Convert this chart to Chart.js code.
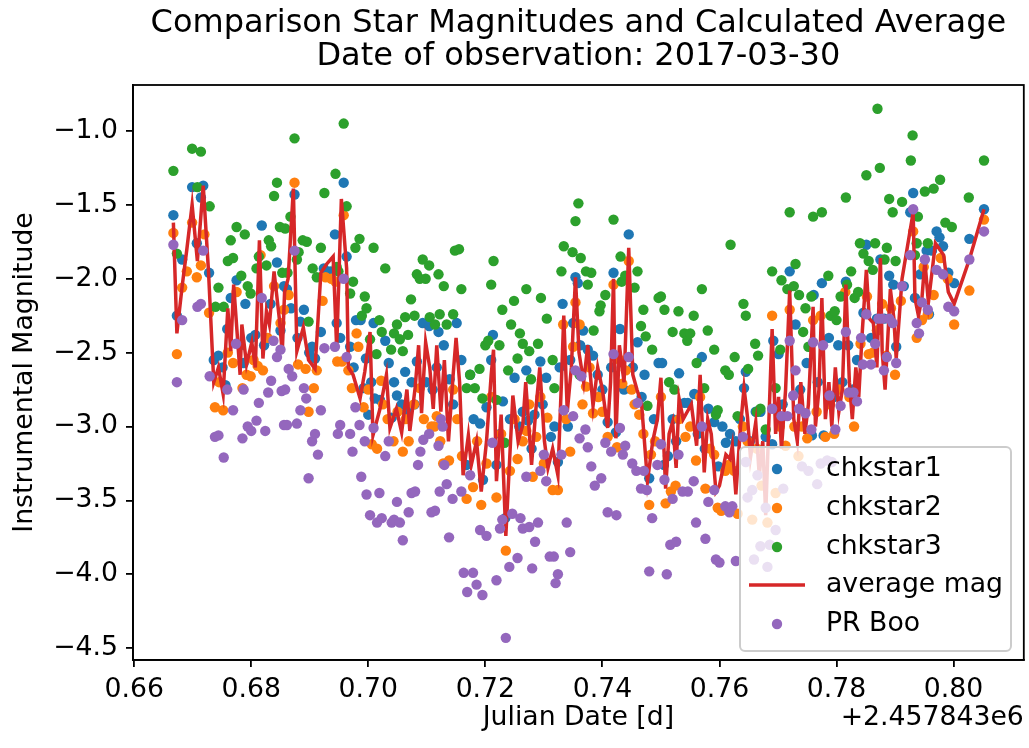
<!DOCTYPE html>
<html><head><meta charset="utf-8">
<script src="https://cdn.jsdelivr.net/npm/chart.js@4.4.0/dist/chart.umd.min.js"></script>
<style>html,body{margin:0;padding:0;background:#fff;}canvas{display:block;}</style>
</head><body>
<canvas id="c" width="1029" height="748"></canvas>
<script>
const titleLines = ['Comparison Star Magnitudes and Calculated Average', 'Date of observation: 2017-03-30'];
const xLabel = 'Julian Date [d]';
const yLabel = 'Instrumental Magnitude';
const xOffsetText = '+2.457843e6';
const xTicks = [0.66, 0.68, 0.70, 0.72, 0.74, 0.76, 0.78, 0.80];
const yTicks = [-1.0, -1.5, -2.0, -2.5, -3.0, -3.5, -4.0, -4.5];
const seriesNames = ['chkstar1', 'chkstar2', 'chkstar3', 'average mag', 'PR Boo'];

const chkstar1 = [[0.6667,-1.57],[0.6673,-2.25],[0.6682,-1.87],[0.6699,-1.38],[0.6707,-1.76],[0.6714,-1.45],[0.6718,-1.37],[0.6728,-1.96],[0.6736,-2.55],[0.6744,-2.52],[0.6751,-2.60],[0.6756,-2.72],[0.6759,-2.34],[0.6765,-2.13],[0.6775,-2.01],[0.6781,-2.45],[0.6787,-2.57],[0.6790,-2.17],[0.6800,-2.40],[0.6807,-2.38],[0.6818,-1.64],[0.6822,-2.45],[0.6833,-2.17],[0.6844,-1.89],[0.6850,-2.35],[0.6856,-2.05],[0.6861,-2.07],[0.6868,-2.20],[0.6874,-1.43],[0.6879,-2.40],[0.6884,-2.29],[0.6890,-2.21],[0.6899,-2.50],[0.6904,-2.46],[0.6909,-2.54],[0.6919,-2.36],[0.6924,-1.93],[0.6935,-1.95],[0.6943,-1.70],[0.6946,-2.30],[0.6952,-2.40],[0.6958,-1.35],[0.6963,-1.85],[0.6969,-2.46],[0.6975,-2.60],[0.6979,-2.28],[0.6987,-2.28],[0.6992,-2.74],[0.6996,-2.54],[0.7000,-2.92],[0.7005,-2.70],[0.7009,-2.30],[0.7011,-2.81],[0.7020,-2.82],[0.7029,-2.42],[0.7035,-2.57],[0.7040,-2.94],[0.7044,-2.70],[0.7049,-2.79],[0.7057,-2.85],[0.7063,-2.63],[0.7066,-2.90],[0.7074,-2.70],[0.7079,-2.85],[0.7083,-2.56],[0.7093,-2.30],[0.7099,-2.70],[0.7104,-2.32],[0.7110,-2.75],[0.7117,-2.60],[0.7120,-2.36],[0.7129,-2.45],[0.7139,-2.68],[0.7145,-2.85],[0.7151,-2.30],[0.7159,-2.55],[0.7168,-3.26],[0.7174,-2.65],[0.7180,-2.95],[0.7191,-2.98],[0.7196,-3.36],[0.7202,-2.87],[0.7210,-2.55],[0.7213,-2.38],[0.7219,-3.26],[0.7225,-3.05],[0.7230,-2.83],[0.7234,-3.62],[0.7242,-2.95],[0.7250,-2.67],[0.7258,-3.00],[0.7264,-2.90],[0.7270,-2.62],[0.7273,-2.96],[0.7279,-3.15],[0.7284,-2.92],[0.7294,-2.56],[0.7298,-2.85],[0.7304,-2.67],[0.7312,-3.07],[0.7318,-3.00],[0.7324,-3.24],[0.7327,-2.60],[0.7332,-2.17],[0.7341,-3.00],[0.7345,-2.55],[0.7350,-2.30],[0.7354,-1.99],[0.7358,-2.03],[0.7362,-2.45],[0.7367,-2.35],[0.7375,-2.48],[0.7384,-2.52],[0.7392,-2.65],[0.7400,-2.75],[0.7409,-2.97],[0.7415,-2.60],[0.7419,-1.96],[0.7423,-3.04],[0.7430,-2.34],[0.7437,-2.75],[0.7445,-1.70],[0.7452,-2.60],[0.7460,-2.43],[0.7467,-2.80],[0.7472,-2.65],[0.7480,-3.35],[0.7488,-2.95],[0.7496,-2.57],[0.7502,-2.57],[0.7505,-3.26],[0.7512,-3.20],[0.7520,-2.95],[0.7526,-3.10],[0.7531,-2.64],[0.7540,-2.84],[0.7546,-2.84],[0.7557,-2.78],[0.7563,-3.05],[0.7570,-2.53],[0.7575,-3.15],[0.7581,-2.88],[0.7591,-2.97],[0.7598,-3.27],[0.7605,-3.00],[0.7611,-3.11],[0.7618,-3.05],[0.7628,-3.10],[0.7635,-2.95],[0.7642,-2.74],[0.7645,-2.63],[0.7652,-3.10],[0.7662,-2.90],[0.7670,-2.90],[0.7679,-3.07],[0.7690,-3.12],[0.7692,-2.42],[0.7701,-2.51],[0.7708,-2.85],[0.7720,-1.95],[0.7730,-2.31],[0.7738,-2.75],[0.7749,-2.57],[0.7758,-3.06],[0.7761,-2.11],[0.7768,-2.70],[0.7775,-2.03],[0.7778,-3.06],[0.7787,-2.40],[0.7795,-2.80],[0.7803,-2.45],[0.7810,-2.70],[0.7816,-2.02],[0.7820,-2.45],[0.7828,-2.75],[0.7835,-2.55],[0.7846,-2.23],[0.7851,-1.77],[0.7859,-2.40],[0.7869,-2.27],[0.7875,-1.87],[0.7882,-2.27],[0.7890,-1.98],[0.7897,-2.04],[0.7902,-2.46],[0.7915,-2.05],[0.7926,-1.55],[0.7931,-1.42],[0.7934,-2.13],[0.7943,-1.97],[0.7954,-1.81],[0.7958,-2.24],[0.7963,-1.81],[0.7971,-1.68],[0.7976,-1.72],[0.7982,-1.78],[0.7991,-1.96],[0.8001,-2.03],[0.8027,-1.73],[0.8052,-1.53]];

const chkstar2 = [[0.6667,-1.69],[0.6673,-2.51],[0.6682,-2.06],[0.6690,-1.95],[0.6699,-1.62],[0.6707,-1.99],[0.6714,-1.91],[0.6720,-1.70],[0.6728,-2.23],[0.6738,-2.87],[0.6745,-2.70],[0.6752,-2.89],[0.6760,-2.50],[0.6769,-2.57],[0.6775,-2.09],[0.6785,-2.74],[0.6792,-2.65],[0.6799,-2.66],[0.6804,-2.55],[0.6811,-2.59],[0.6816,-1.84],[0.6820,-2.62],[0.6828,-2.40],[0.6839,-2.05],[0.6850,-2.30],[0.6856,-2.21],[0.6864,-2.11],[0.6874,-1.35],[0.6880,-2.58],[0.6893,-2.61],[0.6898,-2.90],[0.6907,-2.74],[0.6912,-2.62],[0.6922,-2.15],[0.6927,-1.99],[0.6937,-2.00],[0.6944,-2.02],[0.6947,-2.56],[0.6955,-2.56],[0.6958,-1.57],[0.6966,-2.62],[0.6972,-2.74],[0.6980,-2.37],[0.6983,-2.46],[0.6992,-2.87],[0.7000,-2.75],[0.7006,-3.12],[0.7015,-3.15],[0.7022,-2.69],[0.7025,-2.85],[0.7033,-2.95],[0.7043,-3.10],[0.7050,-2.90],[0.7059,-3.17],[0.7064,-2.95],[0.7069,-3.10],[0.7078,-2.85],[0.7088,-2.74],[0.7095,-2.95],[0.7108,-3.00],[0.7113,-3.00],[0.7117,-2.93],[0.7123,-3.10],[0.7128,-3.25],[0.7138,-3.23],[0.7145,-2.75],[0.7152,-2.95],[0.7160,-3.20],[0.7168,-3.49],[0.7179,-3.41],[0.7186,-3.10],[0.7193,-3.53],[0.7202,-3.25],[0.7210,-2.80],[0.7219,-3.48],[0.7227,-3.05],[0.7235,-3.84],[0.7242,-3.30],[0.7250,-2.95],[0.7255,-3.22],[0.7264,-3.10],[0.7270,-3.03],[0.7275,-2.85],[0.7281,-3.34],[0.7287,-3.07],[0.7294,-2.80],[0.7300,-3.25],[0.7306,-2.94],[0.7315,-3.43],[0.7324,-3.43],[0.7333,-2.31],[0.7338,-2.95],[0.7345,-3.17],[0.7350,-2.46],[0.7354,-2.16],[0.7361,-2.31],[0.7366,-2.85],[0.7372,-2.73],[0.7378,-2.60],[0.7384,-2.91],[0.7393,-2.80],[0.7400,-2.90],[0.7409,-3.07],[0.7419,-2.04],[0.7425,-3.14],[0.7430,-2.55],[0.7434,-2.71],[0.7440,-2.62],[0.7445,-1.88],[0.7450,-2.75],[0.7455,-2.85],[0.7463,-2.92],[0.7470,-3.05],[0.7480,-3.53],[0.7483,-3.19],[0.7490,-3.10],[0.7500,-2.80],[0.7508,-3.52],[0.7517,-3.44],[0.7525,-3.40],[0.7531,-2.95],[0.7542,-3.07],[0.7550,-3.00],[0.7560,-3.23],[0.7567,-2.80],[0.7576,-3.42],[0.7584,-3.15],[0.7591,-3.19],[0.7597,-3.55],[0.7603,-3.57],[0.7610,-3.30],[0.7616,-3.26],[0.7625,-3.30],[0.7631,-3.59],[0.7640,-3.00],[0.7648,-3.10],[0.7656,-3.63],[0.7664,-3.15],[0.7672,-3.40],[0.7682,-3.65],[0.7690,-2.25],[0.7696,-3.45],[0.7703,-3.00],[0.7713,-3.13],[0.7720,-2.21],[0.7728,-3.00],[0.7735,-3.20],[0.7741,-3.00],[0.7750,-3.08],[0.7760,-2.28],[0.7766,-2.90],[0.7773,-2.25],[0.7781,-3.07],[0.7789,-2.85],[0.7796,-3.05],[0.7805,-2.75],[0.7815,-2.09],[0.7822,-2.80],[0.7830,-3.00],[0.7841,-2.44],[0.7852,-2.12],[0.7855,-2.51],[0.7862,-2.50],[0.7869,-2.35],[0.7878,-2.17],[0.7885,-2.52],[0.7893,-2.20],[0.7900,-2.65],[0.7910,-2.15],[0.7931,-1.68],[0.7937,-2.40],[0.7946,-2.28],[0.7949,-1.92],[0.7956,-2.24],[0.7966,-2.11],[0.7978,-1.86],[0.7990,-2.00],[0.8001,-2.31],[0.8027,-2.08],[0.8052,-1.60]];

const chkstar3 = [[0.6667,-1.27],[0.6673,-1.83],[0.6699,-1.12],[0.6708,-1.38],[0.6714,-1.14],[0.6729,-1.51],[0.6739,-2.19],[0.6744,-2.06],[0.6753,-2.19],[0.6760,-1.88],[0.6765,-1.74],[0.6769,-1.86],[0.6775,-1.65],[0.6783,-1.98],[0.6789,-1.70],[0.6794,-2.05],[0.6799,-2.10],[0.6809,-1.93],[0.6813,-1.85],[0.6826,-1.91],[0.6830,-1.74],[0.6834,-1.78],[0.6839,-1.44],[0.6844,-1.35],[0.6849,-1.65],[0.6853,-1.96],[0.6858,-1.66],[0.6862,-1.96],[0.6867,-1.58],[0.6874,-1.05],[0.6878,-1.87],[0.6881,-1.82],[0.6888,-1.74],[0.6895,-1.75],[0.6898,-2.29],[0.6905,-1.93],[0.6912,-1.99],[0.6919,-1.79],[0.6925,-1.42],[0.6944,-1.29],[0.6946,-1.92],[0.6949,-1.95],[0.6958,-0.95],[0.6963,-1.51],[0.6969,-2.10],[0.6974,-2.02],[0.6978,-1.79],[0.6985,-1.73],[0.6989,-2.25],[0.6994,-2.12],[0.6997,-2.20],[0.7003,-2.41],[0.7009,-1.79],[0.7014,-2.51],[0.7019,-2.28],[0.7023,-2.36],[0.7029,-1.93],[0.7039,-2.48],[0.7044,-2.37],[0.7049,-2.31],[0.7054,-2.41],[0.7059,-2.49],[0.7063,-2.26],[0.7068,-2.38],[0.7073,-2.14],[0.7079,-2.25],[0.7083,-1.97],[0.7088,-2.00],[0.7093,-1.87],[0.7098,-2.00],[0.7104,-1.91],[0.7105,-2.26],[0.7114,-2.31],[0.7120,-1.97],[0.7122,-2.24],[0.7129,-2.05],[0.7134,-2.31],[0.7145,-2.24],[0.7148,-1.81],[0.7155,-1.80],[0.7159,-2.07],[0.7168,-2.74],[0.7174,-2.65],[0.7182,-2.74],[0.7190,-2.61],[0.7195,-2.81],[0.7200,-2.45],[0.7205,-2.42],[0.7210,-2.04],[0.7214,-1.88],[0.7219,-2.82],[0.7224,-2.45],[0.7229,-2.21],[0.7233,-3.11],[0.7239,-2.62],[0.7244,-2.31],[0.7249,-2.15],[0.7255,-2.54],[0.7259,-2.37],[0.7264,-2.44],[0.7270,-2.07],[0.7275,-2.49],[0.7278,-2.68],[0.7290,-2.44],[0.7295,-2.13],[0.7305,-2.27],[0.7315,-2.55],[0.7318,-2.74],[0.7330,-1.95],[0.7334,-1.78],[0.7349,-1.82],[0.7354,-1.61],[0.7359,-1.49],[0.7361,-2.65],[0.7363,-1.86],[0.7372,-1.95],[0.7375,-2.04],[0.7381,-1.96],[0.7385,-2.35],[0.7395,-2.22],[0.7397,-2.18],[0.7405,-2.11],[0.7419,-1.60],[0.7431,-1.85],[0.7433,-2.02],[0.7439,-1.98],[0.7455,-2.06],[0.7460,-1.95],[0.7466,-2.32],[0.7470,-2.21],[0.7474,-2.39],[0.7477,-2.86],[0.7485,-2.48],[0.7496,-2.13],[0.7500,-2.12],[0.7506,-2.21],[0.7514,-2.70],[0.7520,-2.36],[0.7523,-2.75],[0.7530,-2.22],[0.7540,-2.37],[0.7545,-2.42],[0.7550,-2.37],[0.7556,-2.25],[0.7561,-2.57],[0.7570,-2.07],[0.7574,-2.74],[0.7580,-2.35],[0.7591,-2.48],[0.7594,-2.92],[0.7597,-2.89],[0.7610,-2.62],[0.7616,-2.65],[0.7619,-1.77],[0.7626,-2.53],[0.7631,-2.93],[0.7641,-2.17],[0.7645,-2.25],[0.7649,-2.61],[0.7661,-2.44],[0.7664,-2.90],[0.7666,-2.52],[0.7670,-2.88],[0.7679,-3.02],[0.7690,-1.95],[0.7696,-2.74],[0.7704,-2.48],[0.7706,-2.01],[0.7716,-2.07],[0.7720,-1.55],[0.7727,-2.05],[0.7730,-1.90],[0.7736,-2.11],[0.7743,-2.36],[0.7747,-2.20],[0.7752,-2.46],[0.7757,-2.12],[0.7760,-1.58],[0.7775,-1.55],[0.7786,-1.98],[0.7790,-2.25],[0.7797,-2.22],[0.7800,-2.28],[0.7807,-2.12],[0.7816,-1.45],[0.7818,-2.04],[0.7825,-1.95],[0.7831,-2.13],[0.7837,-2.09],[0.7840,-1.76],[0.7846,-1.83],[0.7851,-1.30],[0.7855,-1.88],[0.7862,-1.94],[0.7866,-1.76],[0.7870,-0.85],[0.7874,-1.25],[0.7882,-1.87],[0.7886,-1.79],[0.7890,-1.46],[0.7896,-1.55],[0.7901,-1.88],[0.7912,-1.48],[0.7927,-1.20],[0.7930,-1.03],[0.7934,-1.84],[0.7937,-1.76],[0.7939,-1.58],[0.7951,-1.41],[0.7956,-1.76],[0.7966,-1.39],[0.7977,-1.33],[0.7986,-1.62],[0.7997,-1.65],[0.8026,-1.45],[0.8052,-1.20]];

const avgMag = [[0.6667,-1.62],[0.6673,-2.37],[0.6682,-2.05],[0.6690,-1.80],[0.6699,-1.50],[0.6708,-1.88],[0.6718,-1.37],[0.6727,-1.95],[0.6736,-2.70],[0.6744,-2.60],[0.6752,-2.78],[0.6760,-2.20],[0.6765,-2.49],[0.6770,-2.04],[0.6781,-2.65],[0.6784,-2.31],[0.6792,-2.58],[0.6801,-2.43],[0.6807,-2.60],[0.6814,-1.74],[0.6820,-2.54],[0.6826,-2.22],[0.6831,-2.31],[0.6839,-1.95],[0.6848,-2.27],[0.6853,-2.50],[0.6857,-2.09],[0.6863,-2.00],[0.6872,-1.39],[0.6878,-2.49],[0.6889,-2.33],[0.6898,-2.55],[0.6909,-2.61],[0.6919,-1.96],[0.6929,-1.90],[0.6940,-1.85],[0.6946,-2.47],[0.6954,-1.46],[0.6963,-1.93],[0.6966,-2.60],[0.6974,-2.65],[0.6986,-2.81],[0.6994,-2.63],[0.7003,-2.36],[0.7008,-3.06],[0.7020,-2.88],[0.7031,-2.65],[0.7037,-3.01],[0.7048,-2.88],[0.7057,-3.04],[0.7066,-2.75],[0.7071,-3.03],[0.7080,-2.74],[0.7086,-2.45],[0.7091,-2.91],[0.7098,-2.43],[0.7105,-2.60],[0.7111,-2.88],[0.7117,-2.45],[0.7124,-2.90],[0.7130,-2.55],[0.7137,-3.10],[0.7145,-2.65],[0.7150,-2.40],[0.7156,-2.70],[0.7162,-3.33],[0.7171,-3.06],[0.7176,-3.26],[0.7185,-3.10],[0.7193,-3.44],[0.7202,-3.10],[0.7210,-2.65],[0.7214,-2.48],[0.7219,-3.37],[0.7227,-2.92],[0.7235,-3.74],[0.7247,-2.79],[0.7256,-3.10],[0.7264,-2.99],[0.7269,-2.70],[0.7279,-3.26],[0.7286,-2.90],[0.7293,-2.60],[0.7301,-3.10],[0.7307,-3.28],[0.7315,-3.15],[0.7324,-3.33],[0.7330,-2.70],[0.7334,-2.25],[0.7340,-2.90],[0.7347,-2.60],[0.7354,-1.99],[0.7360,-2.50],[0.7368,-2.70],[0.7375,-2.45],[0.7384,-2.86],[0.7392,-2.60],[0.7400,-2.75],[0.7409,-3.01],[0.7414,-2.70],[0.7419,-2.00],[0.7423,-3.08],[0.7429,-2.45],[0.7437,-2.70],[0.7445,-1.79],[0.7452,-2.65],[0.7459,-2.75],[0.7467,-2.85],[0.7477,-3.37],[0.7486,-3.10],[0.7494,-2.95],[0.7500,-2.67],[0.7508,-3.42],[0.7514,-3.05],[0.7520,-2.97],[0.7526,-3.28],[0.7531,-2.81],[0.7538,-2.95],[0.7545,-2.90],[0.7552,-2.85],[0.7561,-3.13],[0.7567,-2.65],[0.7574,-3.31],[0.7580,-2.95],[0.7586,-3.05],[0.7594,-3.44],[0.7600,-3.40],[0.7611,-3.19],[0.7618,-3.22],[0.7622,-3.13],[0.7628,-3.46],[0.7636,-3.00],[0.7642,-2.74],[0.7648,-2.94],[0.7653,-3.21],[0.7662,-2.97],[0.7668,-3.33],[0.7674,-3.10],[0.7679,-3.60],[0.7685,-2.90],[0.7690,-2.34],[0.7696,-3.05],[0.7701,-2.80],[0.7706,-3.15],[0.7713,-2.75],[0.7720,-2.08],[0.7727,-2.95],[0.7733,-3.10],[0.7739,-2.70],[0.7746,-3.05],[0.7752,-2.85],[0.7760,-2.19],[0.7764,-3.00],[0.7770,-2.75],[0.7775,-2.13],[0.7781,-2.95],[0.7787,-2.70],[0.7792,-3.00],[0.7798,-2.60],[0.7804,-2.90],[0.7810,-2.75],[0.7816,-2.04],[0.7822,-2.70],[0.7827,-2.95],[0.7833,-2.60],[0.7838,-2.80],[0.7844,-2.36],[0.7851,-1.94],[0.7856,-2.27],[0.7863,-2.30],[0.7869,-2.60],[0.7875,-1.86],[0.7878,-2.49],[0.7883,-2.75],[0.7892,-2.07],[0.7898,-2.27],[0.7902,-2.54],[0.7912,-2.00],[0.7931,-1.55],[0.7934,-2.13],[0.7940,-2.25],[0.7946,-2.13],[0.7951,-1.88],[0.7957,-2.16],[0.7969,-1.76],[0.7983,-1.84],[0.7991,-2.09],[0.8001,-2.17],[0.8027,-1.87],[0.8052,-1.53]];

const prBoo = [[0.6667,-1.77],[0.6673,-2.70],[0.6682,-2.28],[0.6708,-2.19],[0.6714,-2.17],[0.6718,-1.81],[0.6729,-2.66],[0.6738,-3.07],[0.6744,-3.06],[0.6753,-3.21],[0.6759,-2.75],[0.6769,-2.89],[0.6774,-2.44],[0.6785,-3.08],[0.6787,-2.75],[0.6794,-3.00],[0.6800,-3.03],[0.6809,-2.96],[0.6813,-2.84],[0.6818,-2.13],[0.6824,-3.03],[0.6829,-2.77],[0.6834,-2.69],[0.6838,-2.42],[0.6844,-2.53],[0.6850,-2.48],[0.6852,-2.76],[0.6856,-2.99],[0.6858,-2.75],[0.6861,-2.99],[0.6864,-2.61],[0.6870,-2.66],[0.6874,-1.81],[0.6878,-2.98],[0.6884,-2.89],[0.6890,-2.74],[0.6894,-2.81],[0.6898,-3.35],[0.6904,-3.10],[0.6909,-3.05],[0.6914,-3.19],[0.6919,-2.89],[0.6925,-2.47],[0.6943,-2.46],[0.6948,-3.05],[0.6952,-2.99],[0.6958,-2.00],[0.6963,-2.53],[0.6969,-3.05],[0.6973,-3.17],[0.6978,-2.87],[0.6985,-2.99],[0.6988,-3.34],[0.6994,-3.10],[0.6997,-3.46],[0.7003,-3.60],[0.7009,-3.01],[0.7015,-3.65],[0.7019,-3.45],[0.7023,-3.62],[0.7029,-3.20],[0.7035,-3.10],[0.7040,-3.65],[0.7044,-3.63],[0.7049,-3.51],[0.7054,-3.65],[0.7059,-3.77],[0.7069,-3.58],[0.7074,-3.45],[0.7080,-3.44],[0.7085,-3.26],[0.7089,-3.17],[0.7094,-3.09],[0.7104,-3.05],[0.7108,-3.58],[0.7114,-3.57],[0.7120,-3.13],[0.7122,-3.44],[0.7124,-2.95],[0.7127,-3.00],[0.7130,-3.26],[0.7134,-3.39],[0.7138,-3.75],[0.7144,-3.49],[0.7159,-3.44],[0.7163,-3.99],[0.7169,-4.12],[0.7174,-3.33],[0.7179,-3.99],[0.7185,-4.07],[0.7191,-3.70],[0.7195,-4.14],[0.7202,-3.74],[0.7212,-3.11],[0.7219,-4.04],[0.7225,-3.69],[0.7229,-3.63],[0.7235,-4.43],[0.7241,-3.95],[0.7246,-3.59],[0.7255,-3.89],[0.7260,-3.62],[0.7264,-3.69],[0.7270,-3.34],[0.7275,-3.68],[0.7280,-3.96],[0.7285,-3.78],[0.7290,-3.65],[0.7294,-3.30],[0.7300,-3.19],[0.7304,-3.37],[0.7310,-3.88],[0.7317,-3.88],[0.7320,-4.06],[0.7324,-4.00],[0.7330,-3.19],[0.7334,-2.89],[0.7339,-3.65],[0.7345,-3.85],[0.7350,-2.93],[0.7354,-2.62],[0.7361,-3.08],[0.7364,-2.66],[0.7371,-3.02],[0.7375,-3.14],[0.7381,-3.27],[0.7387,-3.40],[0.7398,-3.35],[0.7405,-3.11],[0.7409,-3.58],[0.7415,-3.17],[0.7419,-2.51],[0.7424,-3.60],[0.7430,-3.01],[0.7435,-3.19],[0.7439,-3.13],[0.7445,-2.53],[0.7451,-3.25],[0.7458,-3.30],[0.7460,-2.84],[0.7466,-3.42],[0.7471,-3.30],[0.7476,-3.43],[0.7480,-3.98],[0.7485,-3.62],[0.7494,-3.26],[0.7500,-3.12],[0.7506,-3.36],[0.7510,-4.00],[0.7516,-3.80],[0.7520,-3.49],[0.7526,-3.78],[0.7530,-3.19],[0.7537,-3.44],[0.7546,-3.44],[0.7556,-3.37],[0.7560,-3.65],[0.7570,-3.00],[0.7576,-3.76],[0.7581,-3.51],[0.7591,-3.43],[0.7594,-3.90],[0.7600,-3.92],[0.7610,-3.54],[0.7617,-3.58],[0.7622,-3.54],[0.7628,-3.91],[0.7640,-3.07],[0.7645,-3.24],[0.7648,-3.48],[0.7656,-3.43],[0.7659,-3.90],[0.7665,-3.33],[0.7670,-3.81],[0.7679,-3.55],[0.7682,-3.95],[0.7686,-3.80],[0.7690,-2.88],[0.7696,-3.70],[0.7706,-2.93],[0.7709,-3.42],[0.7716,-2.93],[0.7720,-2.42],[0.7726,-2.79],[0.7730,-2.62],[0.7736,-2.88],[0.7741,-3.27],[0.7747,-2.91],[0.7752,-3.30],[0.7757,-3.02],[0.7760,-2.43],[0.7767,-3.39],[0.7773,-3.25],[0.7777,-2.45],[0.7784,-3.23],[0.7788,-2.79],[0.7792,-3.24],[0.7798,-3.02],[0.7807,-2.86],[0.7816,-2.36],[0.7821,-2.77],[0.7829,-2.77],[0.7835,-2.83],[0.7842,-2.40],[0.7845,-2.58],[0.7851,-2.24],[0.7859,-2.58],[0.7866,-2.44],[0.7872,-2.27],[0.7878,-2.27],[0.7881,-2.62],[0.7886,-2.53],[0.7890,-2.27],[0.7896,-2.30],[0.7902,-2.57],[0.7912,-2.05],[0.7926,-1.84],[0.7931,-1.53],[0.7937,-2.30],[0.7941,-2.37],[0.7946,-2.16],[0.7951,-1.87],[0.7956,-2.21],[0.7971,-1.94],[0.7982,-1.97],[0.7991,-2.19],[0.8001,-2.22],[0.8027,-1.87],[0.8052,-1.68]];

const colors = ['#1f77b4', '#ff7f0e', '#2ca02c', '#d62728', '#9467bd'];
const FONT = "'DejaVu Sans', sans-serif";
const FS = 26.7;
const toXY = arr => arr.map(p => ({x: p[0], y: p[1]}));
const fmtMinus = (v, d) => (v < 0 ? '\u2212' : '') + Math.abs(v).toFixed(d);

function roundRectPath(ctx, x, y, w, h, r) {
  ctx.beginPath();
  ctx.moveTo(x + r, y);
  ctx.lineTo(x + w - r, y);
  ctx.arcTo(x + w, y, x + w, y + r, r);
  ctx.lineTo(x + w, y + h - r);
  ctx.arcTo(x + w, y + h, x + w - r, y + h, r);
  ctx.lineTo(x + r, y + h);
  ctx.arcTo(x, y + h, x, y + h - r, r);
  ctx.lineTo(x, y + r);
  ctx.arcTo(x, y, x + r, y, r);
  ctx.closePath();
}

const decor = {
  id: 'decor',
  afterDraw(chart) {
    const {ctx, chartArea: a} = chart;
    ctx.save();
    ctx.strokeStyle = '#000';
    ctx.lineWidth = 1.8;
    ctx.strokeRect(a.left, a.top, a.right - a.left, a.bottom - a.top);
    ctx.fillStyle = '#000';
    ctx.font = '32px ' + FONT;
    ctx.textAlign = 'center';
    ctx.textBaseline = 'alphabetic';
    const cx = (a.left + a.right) / 2;
    ctx.fillText(titleLines[0], cx, 32);
    ctx.fillText(titleLines[1], cx, 65);
    ctx.font = FS + 'px ' + FONT;
    ctx.textAlign = 'right';
    ctx.textBaseline = 'middle';
    ctx.fillText(xOffsetText, a.right, 718);
    const lx = 740, ly = 447, lw = 271, lh = 204;
    roundRectPath(ctx, lx, ly, lw, lh, 5);
    ctx.fillStyle = 'rgba(255,255,255,0.8)';
    ctx.fill();
    ctx.strokeStyle = '#cccccc';
    ctx.lineWidth = 2;
    ctx.stroke();
    const rows = [469, 508, 547, 585, 624];
    ctx.textAlign = 'left';
    ctx.textBaseline = 'middle';
    ctx.font = FS + 'px ' + FONT;
    seriesNames.forEach((name, i) => {
      const y = rows[i];
      if (i === 3) {
        ctx.strokeStyle = colors[3];
        ctx.lineWidth = 3.5;
        ctx.beginPath();
        ctx.moveTo(749, y);
        ctx.lineTo(805, y);
        ctx.stroke();
      } else {
        ctx.fillStyle = colors[i];
        ctx.beginPath();
        ctx.arc(777, y, 5.2, 0, Math.PI * 2);
        ctx.fill();
      }
      ctx.fillStyle = '#000';
      ctx.fillText(name, 826, y);
    });
    ctx.restore();
  }
};

const pointDs = (i, arr, order) => ({
  label: seriesNames[i], data: toXY(arr),
  backgroundColor: colors[i], borderColor: colors[i],
  pointRadius: 5.2, pointBorderWidth: 0, pointHoverRadius: 5.2,
  showLine: false, order: order
});

new Chart(document.getElementById('c'), {
  type: 'scatter',
  data: {
    datasets: [
      pointDs(0, chkstar1, 5),
      pointDs(1, chkstar2, 4),
      pointDs(2, chkstar3, 3),
      {label: seriesNames[3], data: toXY(avgMag), showLine: true, borderColor: colors[3],
       backgroundColor: colors[3], borderWidth: 3.5, pointRadius: 0, pointHoverRadius: 0,
       tension: 0, fill: false, order: 2},
      pointDs(4, prBoo, 1)
    ]
  },
  options: {
    responsive: false,
    animation: false,
    devicePixelRatio: 1,
    layout: {padding: {left: 0, right: 4, top: 85, bottom: 0}},
    plugins: {legend: {display: false}, tooltip: {enabled: false}, title: {display: false}},
    scales: {
      x: {
        type: 'linear', position: 'bottom', min: 0.6598, max: 0.8120,
        afterBuildTicks: s => { s.ticks = xTicks.map(v => ({value: v})); },
        afterFit: s => { s.height = 88; },
        ticks: {font: {family: FONT, size: FS}, color: '#000', padding: 7, maxRotation: 0, autoSkip: false,
                callback: v => fmtMinus(v, 2)},
        grid: {display: true, drawOnChartArea: false, drawTicks: true, tickLength: 7, color: '#000', lineWidth: 1.8},
        border: {display: true, color: '#000', width: 1.8},
        title: {display: true, text: xLabel, font: {family: FONT, size: FS}, color: '#000', padding: {top: 0, bottom: 14}}
      },
      y: {
        type: 'linear', position: 'left', min: -4.58, max: -0.689,
        afterBuildTicks: s => { s.ticks = yTicks.map(v => ({value: v})); },
        afterFit: s => { s.width = 133; },
        ticks: {font: {family: FONT, size: FS}, color: '#000', padding: 8, autoSkip: false,
                callback: v => fmtMinus(v, 1)},
        grid: {display: true, drawOnChartArea: false, drawTicks: true, tickLength: 7, color: '#000', lineWidth: 1.8},
        border: {display: true, color: '#000', width: 1.8},
        title: {display: true, text: yLabel, font: {family: FONT, size: FS}, color: '#000', padding: {top: 9, bottom: 0}}
      }
    }
  },
  plugins: [decor]
});
</script>
</body></html>
